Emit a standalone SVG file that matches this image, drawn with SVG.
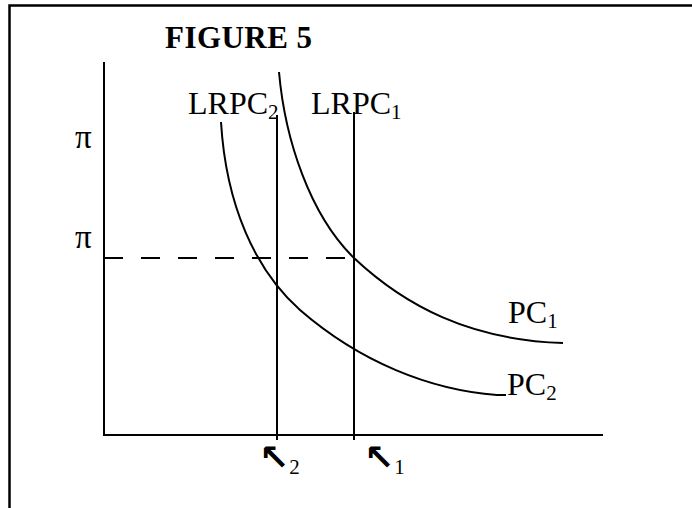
<svg xmlns="http://www.w3.org/2000/svg" width="692" height="508" viewBox="0 0 692 508">
<style>
.t{font-family:"Liberation Serif","Times New Roman",serif;font-size:32px;fill:#000}
.b{font-weight:bold;font-size:31px}
.s{font-family:"Liberation Serif","Times New Roman",serif;font-weight:normal;font-size:21px}
.pi{font-size:33px}
.ln{stroke:#000;stroke-width:2;fill:none}
.arr{font-family:"DejaVu Sans",sans-serif;font-weight:bold;font-size:36px;fill:#000}
</style>
<rect width="692" height="508" fill="#fff"/>
<g id="frame"><path d="M9.5,508 V5.5 H692" stroke="#000" stroke-width="2.5" fill="none"/></g>
<g id="title"><text class="t b" x="165" y="48" textLength="147">FIGURE 5</text></g>
<g id="axes">
<path class="ln" d="M104,62 V435 H603"/>
<text class="t pi" x="75" y="148">π</text>
<text class="t pi" x="75" y="248">π</text>
</g>
<g id="connectors">
<path class="ln" d="M104,258 H354" stroke-dasharray="19 18"/>
</g>
<g id="LRPC2">
<path class="ln" d="M277,115 V440"/>
<text class="t" x="188" y="114">LRPC<tspan class="s" dy="5">2</tspan></text>
</g>
<g id="LRPC1">
<path class="ln" d="M354,112 V440"/>
<text class="t" x="311" y="114">LRPC<tspan class="s" dy="5">1</tspan></text>
</g>
<g id="PC1">
<path class="ln" d="M279,72 C285,140 310,215 354,258 C405,306 470,340 563,343"/>
<text class="t" x="508" y="323">PC<tspan class="s" dy="5">1</tspan></text>
</g>
<g id="PC2">
<path class="ln" d="M221,122 C226,205 255,270 300,310 C360,362 430,390 497,395 H506"/>
<text class="t" x="507" y="395">PC<tspan class="s" dy="5">2</tspan></text>
</g>
<g id="u2">
<text class="arr" x="259" y="470">↖<tspan class="s" dy="4">2</tspan></text>
</g>
<g id="u1">
<text class="arr" x="364" y="470">↖<tspan class="s" dy="4">1</tspan></text>
</g>
</svg>
